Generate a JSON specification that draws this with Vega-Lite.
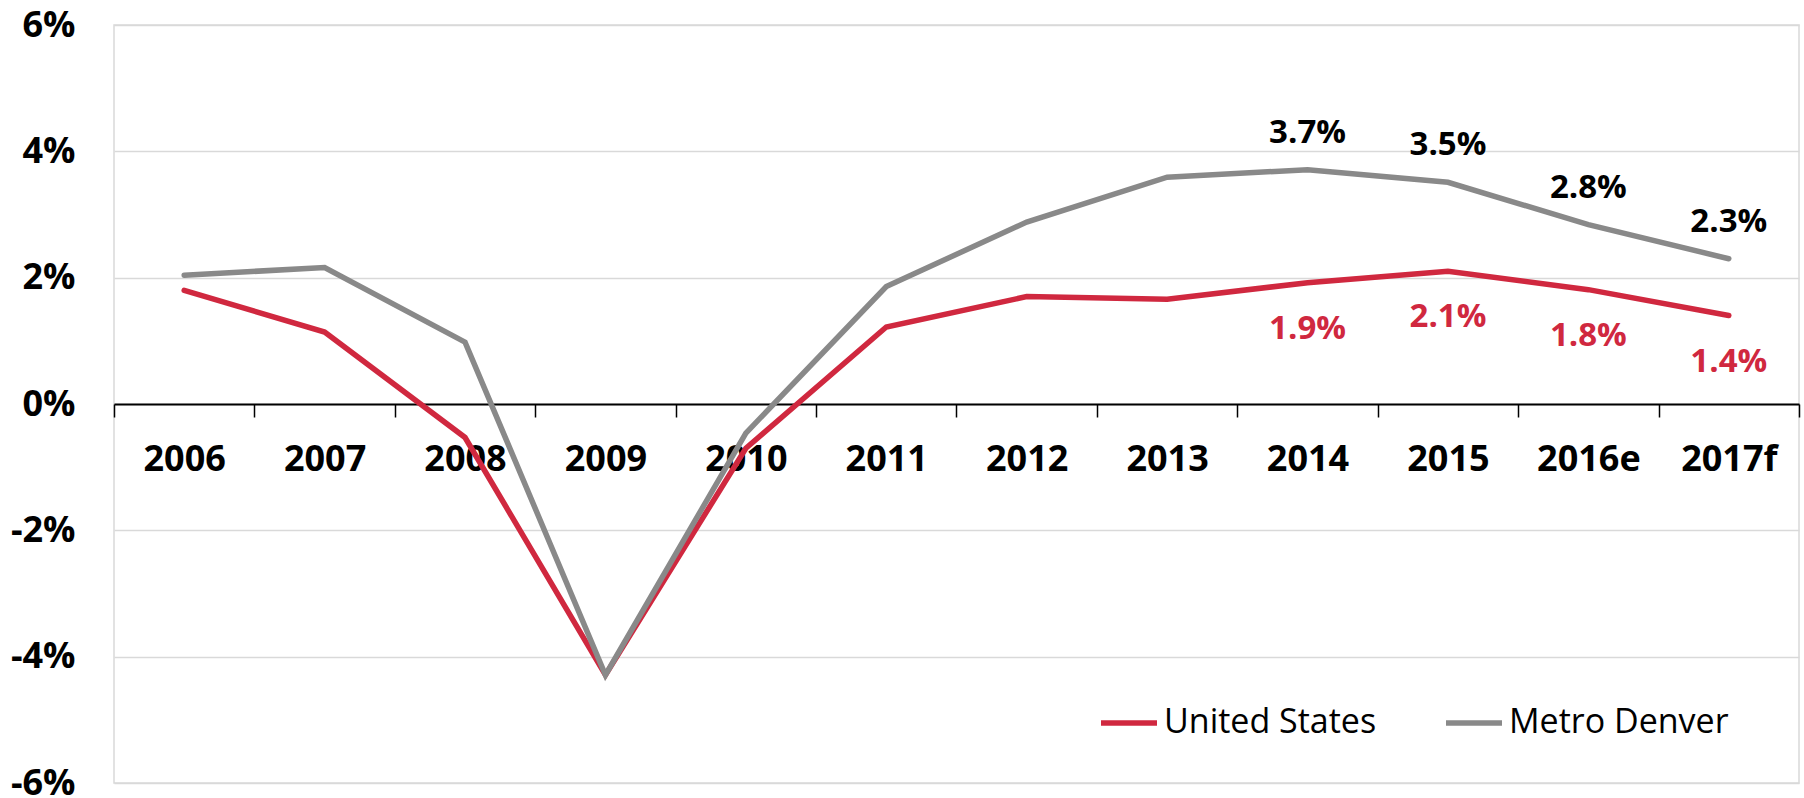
{
  "$schema": "https://vega.github.io/schema/vega-lite/v6.json",
  "width": 1685,
  "height": 758,
  "autosize": {"type": "none"},
  "padding": {"left": 114, "top": 25, "right": 5, "bottom": 15},
  "background": "white",
  "config": {
    "font": "Open Sans",
    "view": {"stroke": "#d9d9d9", "strokeWidth": 1.5}
  },
  "data": {
    "values": [
      {"year": "2006", "series": "United States", "value": 1.80},
      {"year": "2007", "series": "United States", "value": 1.14},
      {"year": "2008", "series": "United States", "value": -0.53},
      {"year": "2009", "series": "United States", "value": -4.29},
      {"year": "2010", "series": "United States", "value": -0.70},
      {"year": "2011", "series": "United States", "value": 1.22},
      {"year": "2012", "series": "United States", "value": 1.70},
      {"year": "2013", "series": "United States", "value": 1.66},
      {"year": "2014", "series": "United States", "value": 1.92},
      {"year": "2015", "series": "United States", "value": 2.10},
      {"year": "2016e", "series": "United States", "value": 1.81},
      {"year": "2017f", "series": "United States", "value": 1.40},
      {"year": "2006", "series": "Metro Denver", "value": 2.04},
      {"year": "2007", "series": "Metro Denver", "value": 2.16},
      {"year": "2008", "series": "Metro Denver", "value": 0.98},
      {"year": "2009", "series": "Metro Denver", "value": -4.29},
      {"year": "2010", "series": "Metro Denver", "value": -0.46},
      {"year": "2011", "series": "Metro Denver", "value": 1.86},
      {"year": "2012", "series": "Metro Denver", "value": 2.88},
      {"year": "2013", "series": "Metro Denver", "value": 3.59},
      {"year": "2014", "series": "Metro Denver", "value": 3.71},
      {"year": "2015", "series": "Metro Denver", "value": 3.51},
      {"year": "2016e", "series": "Metro Denver", "value": 2.84},
      {"year": "2017f", "series": "Metro Denver", "value": 2.30}
    ]
  },
  "encoding": {
    "x": {
      "field": "year",
      "type": "ordinal",
      "sort": null,
      "scale": {"paddingInner": 0, "paddingOuter": 0},
      "axis": {
        "title": null,
        "orient": "bottom",
        "offset": -379,
        "labelAngle": 0,
        "labelFont": "Open Sans",
        "labelFontSize": 36,
        "labelFontWeight": "bold",
        "labelColor": "#000000",
        "labelPadding": 25,
        "domainColor": "#000000",
        "domainWidth": 2,
        "tickColor": "#000000",
        "tickWidth": 1.5,
        "tickSize": 13,
        "tickBand": "extent",
        "grid": false
      }
    },
    "y": {
      "field": "value",
      "type": "quantitative",
      "scale": {"domain": [-6, 6], "nice": false, "zero": false},
      "axis": {
        "title": null,
        "values": [-6, -4, -2, 0, 2, 4, 6],
        "labelExpr": "datum.value + '%'",
        "labelFont": "Open Sans",
        "labelFontSize": 36,
        "labelFontWeight": "bold",
        "labelColor": "#000000",
        "labelPadding": 39,
        "domain": false,
        "ticks": false,
        "grid": true,
        "gridColor": "#d9d9d9",
        "gridWidth": 1.5
      }
    }
  },
  "layer": [
    {
      "mark": {"type": "line", "strokeWidth": 5.5, "strokeCap": "round", "strokeJoin": "miter"},
      "encoding": {
        "color": {
          "field": "series",
          "type": "nominal",
          "scale": {"domain": ["United States", "Metro Denver"], "range": ["#D0283F", "#898989"]},
          "legend": {
            "title": null,
            "orient": "none",
            "direction": "horizontal",
            "legendX": 984,
            "legendY": 667,
            "padding": 0,
            "symbolType": "stroke",
            "symbolSize": 3136,
            "symbolStrokeWidth": 5.5,
            "labelFont": "Open Sans",
            "labelFontSize": 34,
            "labelColor": "#000000",
            "labelOffset": 4,
            "columnPadding": 58,
            "labelLimit": 400
          }
        }
      }
    },
    {
      "transform": [{"filter": "datum.series == 'Metro Denver' && (datum.year == '2014' || datum.year == '2015' || datum.year == '2016e' || datum.year == '2017f')"}],
      "mark": {"type": "text", "dy": -37, "fontSize": 33, "fontWeight": "bold", "font": "Open Sans", "color": "#000000", "text": {"expr": "format(datum.value, '.1f') + '%'"}},
      "encoding": {}
    },
    {
      "transform": [{"filter": "datum.series == 'United States' && (datum.year == '2014' || datum.year == '2015' || datum.year == '2016e' || datum.year == '2017f')"}],
      "mark": {"type": "text", "dy": 46, "fontSize": 33, "fontWeight": "bold", "font": "Open Sans", "color": "#D0283F", "text": {"expr": "format(datum.value, '.1f') + '%'"}},
      "encoding": {}
    }
  ]
}
